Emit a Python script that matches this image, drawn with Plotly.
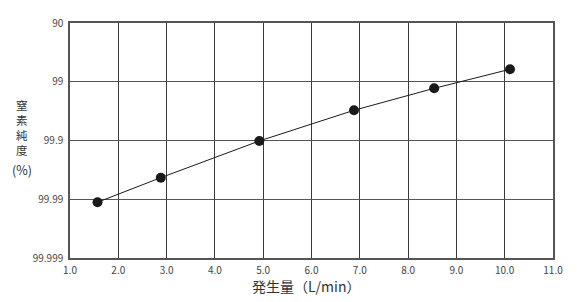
import plotly.graph_objects as go

flow = [1.57, 2.88, 4.92, 6.88, 8.54, 10.11]
purity = [99.9911, 99.9767, 99.9018, 99.673, 99.227, 98.37]
impurity = [100 - p for p in purity]

ytick_labels = ["90", "99", "99.9", "99.99", "99.999"]
ytick_vals = [100 - float(t) for t in ytick_labels]
xtick_vals = [1, 2, 3, 4, 5, 6, 7, 8, 9, 10, 11]
xtick_labels = [f"{v:.1f}" for v in xtick_vals]

W, H = 581, 302
ml, mr, mt, mb = 70, 28, 23, 44

fig = go.Figure()
fig.add_trace(go.Scatter(
    x=flow, y=impurity, mode="lines+markers",
    line=dict(color="#1a1a1a", width=1),
    marker=dict(color="#1a1a1a", size=10),
    showlegend=False, cliponaxis=False,
))

fig.update_layout(
    width=W, height=H,
    margin=dict(l=ml, r=mr, t=mt, b=mb),
    paper_bgcolor="white", plot_bgcolor="white",
    font=dict(family="Noto Sans CJK JP, Noto Sans, sans-serif", color="#333"),
    xaxis=dict(
        range=[1, 11], tickvals=xtick_vals, ticktext=xtick_labels,
        showgrid=True, gridcolor="#3a3a3a", gridwidth=1.2,
        showline=True, linecolor="#555", linewidth=1.5, mirror=True,
        zeroline=False, ticks="", tickfont=dict(size=10, color="#444"),
        ticklabelstandoff=2,
    ),
    yaxis=dict(
        type="log", range=[-3, 1], tickvals=ytick_vals, ticktext=ytick_labels,
        showgrid=True, gridcolor="#555", gridwidth=1.2,
        showline=True, linecolor="#555", linewidth=1.5, mirror=True,
        zeroline=False, ticks="", tickfont=dict(size=10, color="#444"),
        ticklabelstandoff=3,
    ),
)

ph = H - mt - mb
def ypaper(py):
    return (H - mb - py) / ph
def xpaper(px):
    return (px - ml) / (W - ml - mr)

fig.add_annotation(
    text="窒<br>素<br>純<br>度", x=xpaper(22), y=ypaper(127.5), xref="paper", yref="paper",
    showarrow=False, xanchor="center", yanchor="middle", borderpad=0,
    font=dict(size=11.5, color="#333"),
)
fig.add_annotation(
    text="(%)", x=xpaper(22), y=ypaper(169.5), xref="paper", yref="paper",
    showarrow=False, xanchor="center", yanchor="middle", borderpad=0,
    font=dict(size=12.5, color="#333"),
)

fig.add_annotation(
    text="発生量（L/min）", x=xpaper(306), y=ypaper(286), xref="paper", yref="paper",
    showarrow=False, xanchor="center", yanchor="middle",
    font=dict(size=14, color="#333"),
)

fig.write_html("out.html")
